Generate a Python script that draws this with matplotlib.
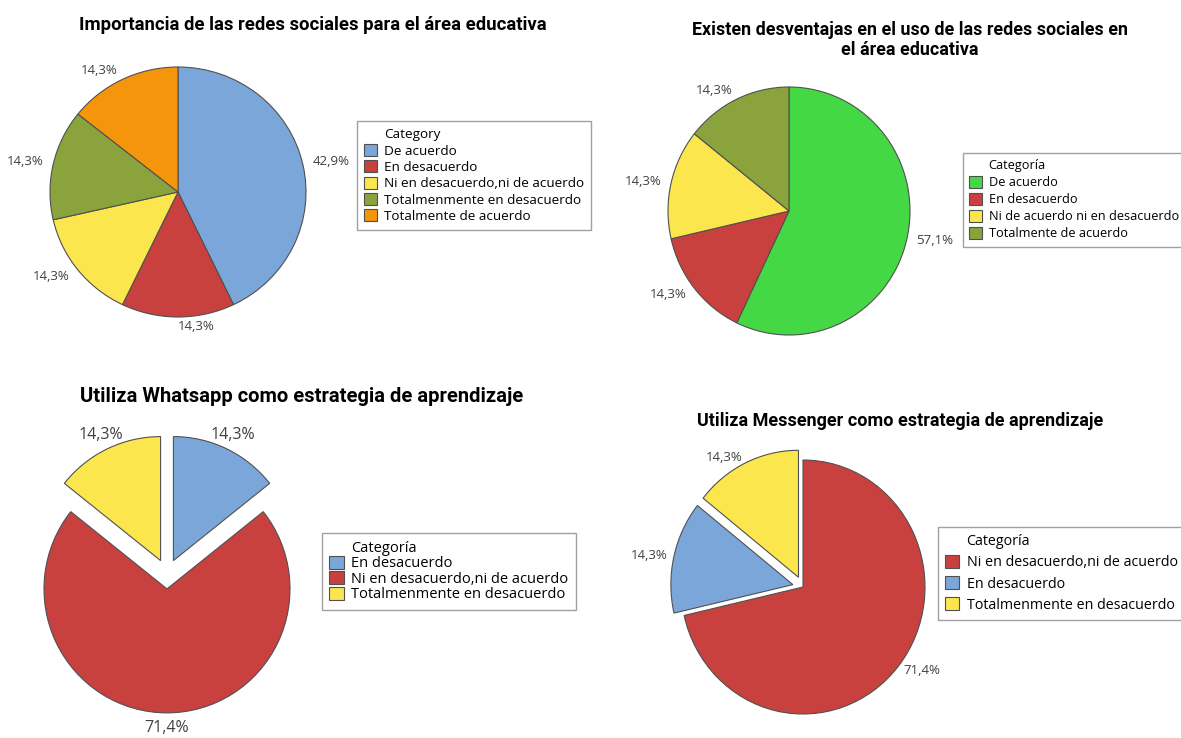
import matplotlib
matplotlib.use('Agg')
from matplotlib import pyplot as plt
from matplotlib.patches import Patch
import numpy as np

# ---------------- data ----------------
title_1 = 'Importancia de las redes sociales para el área educativa'
cats_1  = ['De acuerdo', 'En desacuerdo', 'Ni en desacuerdo,ni de acuerdo',
           'Totalmenmente en desacuerdo', 'Totalmente de acuerdo']
pct_1   = [42.9, 14.3, 14.3, 14.3, 14.3]

title_2 = 'Existen desventajas en el uso de las redes sociales en\nel área educativa'
cats_2  = ['De acuerdo', 'En desacuerdo', 'Ni de acuerdo ni en desacuerdo',
           'Totalmente de acuerdo']
pct_2   = [57.1, 14.3, 14.3, 14.3]

title_3 = 'Utiliza Whatsapp como estrategia de aprendizaje'
cats_3  = ['En desacuerdo', 'Ni en desacuerdo,ni de acuerdo', 'Totalmenmente en desacuerdo']
pct_3   = [14.3, 71.4, 14.3]

title_4 = 'Utiliza Messenger como estrategia de aprendizaje'
cats_4  = ['Ni en desacuerdo,ni de acuerdo', 'En desacuerdo', 'Totalmenmente en desacuerdo']
pct_4   = [71.4, 14.3, 14.3]

# ---------------- style ----------------
blue   = '#7BA6D9'
red    = '#C8413F'
yellow = '#FBE64E'
olive  = '#8BA33D'
orange = '#F5950C'
green  = '#45D845'
edge   = '#505050'

title_font = ['Roboto', 'DejaVu Sans']
text_font  = ['Open Sans', 'DejaVu Sans']
label_col  = '#404040'

W, H = 1181, 738
fig = plt.figure(figsize=(W/100, H/100), dpi=100)
fig.patch.set_facecolor('white')


def fmt(v):
    return f'{v:.1f}%'.replace('.', ',')


def draw_pie(cx, cy, rx, ry, values, colors, explode, ldist, lsize, centered=False):
    pad = 1.5
    ax = fig.add_axes([(cx - pad*rx)/W, 1 - (cy + pad*ry)/H, 2*pad*rx/W, 2*pad*ry/H])
    wedges, texts = ax.pie(values, colors=colors, explode=explode, startangle=90,
                           counterclock=False, labels=[fmt(v) for v in values],
                           labeldistance=ldist,
                           wedgeprops=dict(edgecolor=edge, linewidth=0.8),
                           textprops=dict(color=label_col, fontsize=lsize, family=text_font))
    for t in texts:
        x, y = t.get_position()
        if centered:
            t.set_ha('center')
        elif abs(x) < 0.05:
            t.set_ha('left')
    ax.set_xlim(-pad, pad)
    ax.set_ylim(-pad, pad)
    ax.set_aspect('auto')
    ax.axis('off')
    return ax


def add_title(x, y, text, size):
    fig.text(x/W, 1 - y/H, text, ha='center', va='center', fontsize=size,
             weight='bold', family=title_font, linespacing=1.2)


def add_legend(x, y, header, cats, colors, size, spacing):
    handles = [Patch(facecolor='none', edgecolor='none')] + \
              [Patch(facecolor=c, edgecolor=edge, linewidth=0.8) for c in colors]
    leg = fig.legend(handles, [header] + cats, loc='upper left',
                     bbox_to_anchor=(x/W, 1 - y/H), borderaxespad=0,
                     prop=dict(family=text_font, size=size), fancybox=False,
                     edgecolor='#A0A0A0', framealpha=1, handlelength=1.0,
                     handleheight=1.0, handletextpad=0.5, labelspacing=spacing,
                     borderpad=0.5)
    leg.get_frame().set_linewidth(1.0)
    return leg


# chart 1
draw_pie(178, 192, 128, 125, pct_1, [blue, red, yellow, olive, orange],
         None, 1.08, 9.5)
add_title(313, 25, title_1, 13.3)
add_legend(357, 121, 'Category', cats_1, [blue, red, yellow, olive, orange], 9.7, 0.2)

# chart 2
draw_pie(789, 211, 121, 124, pct_2, [green, red, yellow, olive],
         None, 1.08, 9.5)
add_title(910, 40, title_2, 12.9)
add_legend(963, 153, 'Categoría', cats_2, [green, red, yellow, olive], 9.2, 0.3)

# chart 3
draw_pie(167, 574, 123, 124, pct_3, [blue, red, yellow],
         [0.12, 0.12, 0.12], 1.12, 11.5, centered=True)
add_title(302, 396, title_3, 14.5)
add_legend(322, 533, 'Categoría', cats_3, [blue, red, yellow], 10.5, 0.0)

# chart 4
draw_pie(803, 587, 122, 127, pct_4, [red, blue, yellow],
         [0.0, 0.085, 0.085], 1.05, 9.5)
add_title(900, 421, title_4, 13)
add_legend(938, 527, 'Categoría', cats_4, [red, blue, yellow], 10.3, 0.4)

fig.savefig('out.png', dpi=100, facecolor='white')
